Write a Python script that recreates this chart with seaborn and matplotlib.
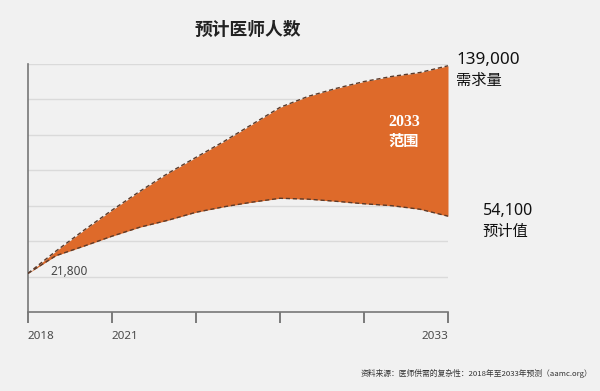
import matplotlib
matplotlib.use("Agg")
import matplotlib.pyplot as plt
import seaborn as sns
import pandas as pd

# ---- data ----
years = list(range(2018, 2034))
demand = [21800, 34400, 46200, 57500, 68200, 78300, 87300, 96300,
          105900, 115500, 121700, 126200, 130100, 133000, 135200, 139000]
projected = [21800, 31800, 37200, 42800, 47900, 51800, 56300, 59400,
             62000, 64200, 63700, 62500, 61100, 60000, 58000, 54100]
tick_years = [2018, 2021, 2024, 2027, 2030, 2033]
tick_labels = ["2018", "2021", "", "", "", "2033"]
y_grid = [0, 20000, 40000, 60000, 80000, 100000, 120000, 140000]

title = "预计医师人数"
demand_label = ["139,000", "需求量"]
proj_label = ["54,100", "预计值"]
start_label = "21,800"
range_label = ["2033", "范围"]
source = "资料来源：医师供需的复杂性：2018年至2033年预测（aamc.org）"

df = pd.DataFrame({"year": years, "demand": demand, "projected": projected})

sns.set_theme(style="white")
plt.rcParams['font.family'] = ['Noto Sans', 'Noto Sans CJK SC', 'DejaVu Sans']

BG = "#f1f1f1"
ORANGE = "#de6a2a"
DASH = "#5b3b2b"

fig = plt.figure(figsize=(6.0, 3.91), dpi=100, facecolor=BG)
ax = fig.add_axes([28/600, 79/391, 420/600, 248/391])
ax.set_facecolor(BG)

ax.fill_between(df["year"], df["projected"], df["demand"], color=ORANGE, lw=0, zorder=2)
sns.lineplot(data=df, x="year", y="demand", ax=ax, color=DASH, lw=1.0,
             linestyle=(0, (3, 2)), zorder=3)
sns.lineplot(data=df, x="year", y="projected", ax=ax, color=DASH, lw=1.0,
             linestyle=(0, (3, 2)), zorder=3)

ax.set_xlim(2018, 2033)
ax.set_ylim(0, 140000)
ax.set_yticks(y_grid)
ax.set_yticklabels([])
ax.tick_params(axis="y", length=0, left=False)
for v in y_grid[1:]:
    ax.axhline(v, color="#dadada", lw=1.0, zorder=1)

ax.set_xticks(tick_years)
ax.set_xticklabels([])
ax.tick_params(axis="x", bottom=True, direction="out", length=8, width=1.2,
               color="#666666", pad=2)
ax.set_xlabel("")
ax.set_ylabel("")

for s in ["top", "right"]:
    ax.spines[s].set_visible(False)
for s in ["left", "bottom"]:
    ax.spines[s].set_color("#777777")
    ax.spines[s].set_linewidth(1.2)

# x tick labels (positioned like the reference)
for yr, lab in zip(tick_years, tick_labels):
    if not lab:
        continue
    ha = "right" if yr == tick_years[-1] else "left"
    ax.annotate(lab, xy=(yr, 0), xycoords="data", xytext=(0, -17.5),
                textcoords="offset points", ha=ha, va="center",
                fontsize=8.4, color="#4a4a4a")

fig.text(0.413, 1 - 30/391, title, ha="center", va="center", fontsize=12.8,
         fontweight="bold", color="#222222",
         family=['Noto Sans CJK SC', 'DejaVu Sans'])

# right-side labels
ax.annotate(demand_label[0], xy=(2033, demand[-1]), xytext=(6, 4.5),
            textcoords="offset points", ha="left", va="center",
            fontsize=12.3, color="#111111")
ax.annotate(demand_label[1], xy=(2033, demand[-1]), xytext=(6, -10.5),
            textcoords="offset points", ha="left", va="center",
            fontsize=11, color="#111111", family=['Noto Sans CJK SC'])
ax.annotate(proj_label[0], xy=(2033, projected[-1]), xytext=(25, 4),
            textcoords="offset points", ha="left", va="center",
            fontsize=11.5, color="#111111")
ax.annotate(proj_label[1], xy=(2033, projected[-1]), xytext=(25, -11),
            textcoords="offset points", ha="left", va="center",
            fontsize=11, color="#111111", family=['Noto Sans CJK SC'])

ax.annotate(start_label, xy=(2018, demand[0]), xytext=(16, 1),
            textcoords="offset points", ha="left", va="center",
            fontsize=8.5, color="#444444")

ax.text(2031.43, 107500, range_label[0], ha="center", va="center",
        fontsize=11.5, fontweight="bold", color="white",
        family=['Liberation Serif'], zorder=4)
ax.text(2031.43, 96500, range_label[1], ha="center", va="center",
        fontsize=11, fontweight="bold", color="white",
        family=['Noto Sans CJK SC'], zorder=4)

fig.text(592/600, 1 - 373/391, source, ha="right", va="center",
         fontsize=5.6, style="italic", color="#333333",
         family=['Noto Sans CJK SC', 'DejaVu Sans'])

fig.savefig("out.png", dpi=100, facecolor=BG)
